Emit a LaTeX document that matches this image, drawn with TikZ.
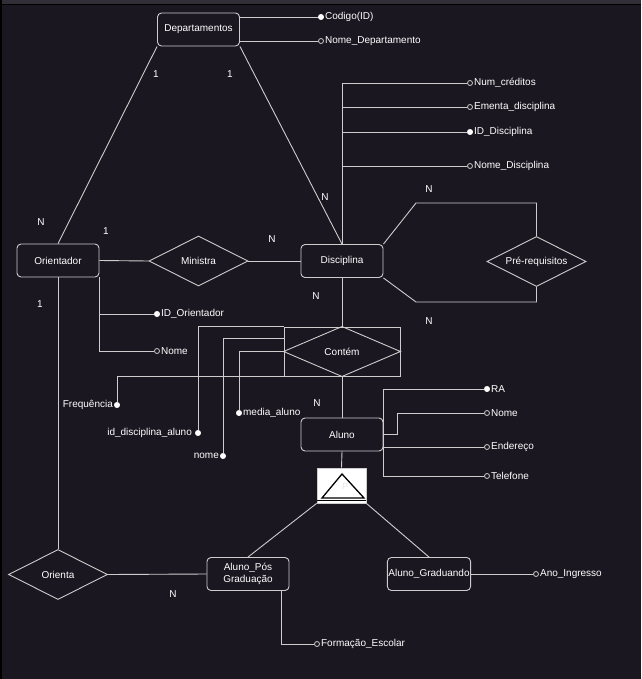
\documentclass[tikz,border=0pt]{standalone}
\usepackage{fontspec}
\setmainfont{Liberation Sans}
\usetikzlibrary{shapes.geometric,calc}
\definecolor{bg}{RGB}{26,23,32}
\definecolor{topbar}{RGB}{50,46,56}
\definecolor{ln}{RGB}{205,205,205}
\definecolor{faint}{RGB}{232,232,232}
\tikzset{
  ent/.style={draw=ln, line width=0.9pt, rounded corners=4pt, minimum width=82pt, minimum height=33pt, inner sep=1pt, text=white, align=center},
  rel/.style={draw=ln, line width=0.9pt, diamond, aspect=2, minimum width=99pt, minimum height=50pt, inner sep=0pt, text=white},
  assoc/.style={draw=ln, line width=0.9pt, minimum width=116pt, minimum height=49pt, inner sep=0pt, text=white},
  conn/.style={draw=ln, line width=0.9pt},
  keyattr/.style={circle, fill=white, draw=white, inner sep=0pt, minimum size=5.5pt},
  openattr/.style={circle, fill=bg, draw=ln, line width=0.8pt, inner sep=0pt, minimum size=5pt},
  lbl/.style={text=white, inner sep=1pt},
  card/.style={text=white, inner sep=1pt},
}
\begin{document}
\begin{tikzpicture}[x=1pt,y=-1pt,font=\fontsize{10}{12}\selectfont]
\fill[bg] (0,0) rectangle (641,679);
\fill[topbar] (0,0) rectangle (641,4);
\fill[black] (0,4) rectangle (641,5.5);
\fill[black] (0,0) rectangle (1.5,679);
\useasboundingbox (0,0) rectangle (641,679);

% entities
\node[ent] (dep) at (198.5,29.5) {Departamentos};
\node[ent] (disc) at (342,261) {Disciplina};
\node[ent] (ori) at (58,260.5) {Orientador};
\node[ent] (aluno) at (342,434.5) {Aluno};
\node[ent] (pos) at (248,574) {Aluno\_Pós\\Graduação};
\node[ent] (grad) at (429,574) {Aluno\_Graduando};

% relationships
\node[rel] (min) at (198.5,261) {Ministra};
\node[rel] (pre) at (536.5,261.5) {Pré-requisitos};
\node[rel] (orienta) at (58,574.5) {Orienta};
\node[assoc] (cont) at (342,351.5) {Contém};
\draw[conn] (cont.west) -- (cont.north) -- (cont.east) -- (cont.south) -- cycle;

% specialization
\node[fill=white, draw=ln, line width=0.8pt, minimum width=49pt, minimum height=35pt, inner sep=0pt] (isa) at (341.5,485.5) {};
\node[text=faint, font=\fontsize{9}{10}\selectfont] (isap) at (345,486) {P};
\draw[black, line width=1.3pt, line join=miter] (342,474) -- (364,498) -- (322,498) -- cycle;
\draw[black, line width=1pt] (isa.west |- 0,500) -- (isa.east |- 0,500);

% Departamentos attributes
\node[keyattr, label={[lbl]east:Codigo(ID)}] (codigo) at (321,17) {};
\node[openattr, label={[lbl]east:Nome\_Departamento}] (nomedep) at (321,41) {};
\draw[conn] (dep.east |- codigo) -- (codigo);
\draw[conn] (dep.east |- nomedep) -- (nomedep);

% Disciplina attributes
\node[openattr, label={[lbl]east:Num\_créditos}] (numc) at (470,83) {};
\node[openattr, label={[lbl]east:Ementa\_disciplina}] (ementa) at (470,107) {};
\node[keyattr, label={[lbl]east:ID\_Disciplina}] (iddisc) at (470,132) {};
\node[openattr, label={[lbl]east:Nome\_Disciplina}] (nomedisc) at (470,166) {};
\draw[conn] (disc.north) -- (disc.north |- numc) -- (numc);
\draw[conn] (disc.north |- ementa) -- (ementa);
\draw[conn] (disc.north |- iddisc) -- (iddisc);
\draw[conn] (disc.north |- nomedisc) -- (nomedisc);

% Orientador attributes
\node[keyattr, label={[lbl]east:ID\_Orientador}] (idori) at (157,314) {};
\node[openattr, label={[lbl]east:Nome}] (nomeori) at (157,351) {};
\draw[conn] (ori.south east) -- (ori.south east |- nomeori) -- (nomeori);
\draw[conn] (ori.south east |- idori) -- (idori);

% Contém attributes
\node[keyattr, label={[lbl]west:Frequência}] (freq) at (117,405) {};
\node[keyattr, label={[lbl,label distance=2pt]west:id\_disciplina\_aluno}] (iddal) at (198,433) {};
\node[keyattr, label={[lbl]west:nome}] (nomec) at (223,456) {};
\node[keyattr, label={[lbl]east:media\_aluno}] (media) at (239,413) {};
\coordinate (c339) at ($(cont.north west)!0.24!(cont.south west)$);
\draw[conn] (freq) -- (freq |- cont.south) -- (cont.south west);
\draw[conn] (iddal) -- (iddal |- cont.north) -- (cont.north west);
\draw[conn] (nomec) -- (nomec |- c339) -- (c339);
\draw[conn] (media) |- (cont.west);

% Aluno attributes
\node[keyattr, label={[lbl]east:RA}] (ra) at (487,389) {};
\node[openattr, label={[lbl]east:Nome}] (nomea) at (487,413) {};
\node[openattr, label={[lbl]east:Endereço}] (ende) at (487,447) {};
\node[openattr, label={[lbl]east:Telefone}] (tel) at (487,476) {};
\draw[conn] (ra) -- (ra -| aluno.east) -- (tel -| aluno.east) -- (tel);
\draw[conn] (aluno.east) -- ++(14,0) |- (nomea);
\draw[conn] (ende -| aluno.east) -- (ende);

% subclass attributes
\node[openattr, label={[lbl]east:Formação\_Escolar}] (form) at (317,644) {};
\node[openattr, label={[lbl]east:Ano\_Ingresso}] (ano) at (536,574) {};
\draw[conn] ($(pos.south east)+(-8,0)$) |- (form);
\draw[conn] (grad.east) -- (ano);

% relationship connectors
\draw[conn] (dep.south west) -- (ori.north);
\draw[conn] (dep.south east) -- (disc.north);
\draw[conn] (ori.east) -- (min.west);
\draw[conn] (min.east) -- (disc.west);
\coordinate (pt) at (416,203);
\coordinate (pb) at (416,302);
\draw[conn] (disc.north east) -- (pt) -- (pt -| pre.north) -- (pre.north);
\draw[conn] (disc.south east) -- (pb) -- (pb -| pre.south) -- (pre.south);
\draw[conn] (disc.south) -- (cont.north);
\draw[conn] (cont.south) -- (aluno.north);
\draw[conn] (aluno.south) -- (isa.north);
\draw[conn] (isa.south west) -- (pos.north);
\draw[conn] (isa.south east) -- (grad.north);
\draw[conn] (ori.south) -- (orienta.north);
\draw[conn] (orienta.east) -- (pos.west);

% cardinalities
\node[card] (k1) at (156,74) {1};
\node[card] (k2) at (230,74) {1};
\node[card] (k3) at (325,197) {N};
\node[card] (k4) at (41,222) {N};
\node[card] (k5) at (106,231) {1};
\node[card] (k6) at (272,239) {N};
\node[card] (k7) at (40,304) {1};
\node[card] (k8) at (429,189) {N};
\node[card] (k9) at (316,296) {N};
\node[card] (k10) at (429,321) {N};
\node[card] (k11) at (317,403) {N};
\node[card] (k12) at (173,594) {N};
\end{tikzpicture}
\end{document}
